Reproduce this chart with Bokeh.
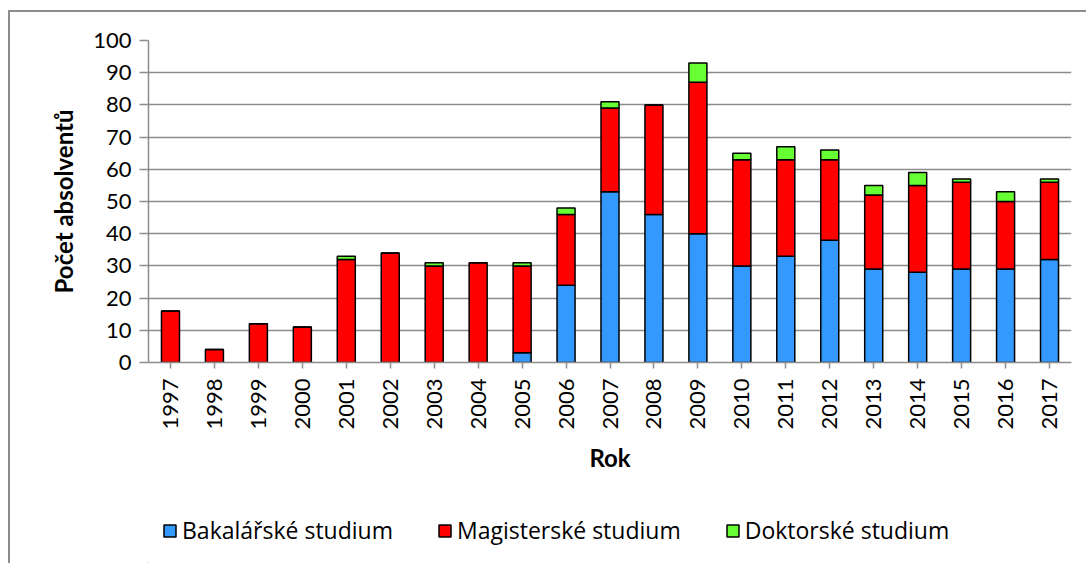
import math
from bokeh.plotting import figure
from bokeh.layouts import column
from bokeh.models import Range1d, FactorRange, Legend, LegendItem, ColumnDataSource, SingleIntervalTicker
from bokeh.embed import file_html
from bokeh.resources import INLINE

years = [str(y) for y in range(1997, 2018)]
bakalarske = [0, 0, 0, 0, 0, 0, 0, 0, 3, 24, 53, 46, 40, 30, 33, 38, 29, 28, 29, 29, 32]
magisterske = [16, 4, 12, 11, 32, 34, 30, 31, 27, 22, 26, 34, 47, 33, 30, 25, 23, 27, 27, 21, 24]
doktorske = [0, 0, 0, 0, 1, 0, 1, 0, 1, 2, 2, 0, 6, 2, 4, 3, 3, 4, 1, 3, 1]
series = ["Bakalářské studium", "Magisterské studium", "Doktorské studium"]
colors = ["#3399ff", "#ff0000", "#66ff33"]

FONT = "Lato"
LFONT = "Open Sans"
GRID = "#8c8c8c"
W = 1076

source = ColumnDataSource(data=dict(year=years, b=bakalarske, m=magisterske, d=doktorske))

p = figure(width=W, height=490, x_range=FactorRange(*years, range_padding=0),
           y_range=Range1d(0, 100), output_backend="svg", toolbar_location=None,
           min_border_left=138, min_border_right=W - 138 - 923, min_border_top=28,
           min_border_bottom=490 - 28 - 322)
p.outline_line_color = None

rs = p.vbar_stack(["b", "m", "d"], x="year", width=0.41, source=source,
                  fill_color=colors, line_color="black", line_width=1.5)

p.yaxis.ticker = SingleIntervalTicker(interval=10)
p.ygrid.grid_line_color = GRID
p.ygrid.grid_line_width = 1.5
p.xgrid.grid_line_color = None

for ax in (p.xaxis[0], p.yaxis[0]):
    ax.axis_line_color = GRID
    ax.axis_line_width = 1.5
    ax.major_tick_line_color = GRID
    ax.major_tick_line_width = 1.5
    ax.major_tick_in = 0
    ax.minor_tick_line_color = None
    ax.major_label_text_font = FONT
    ax.major_label_text_font_size = "22px"
    ax.major_label_text_color = "black"
    ax.axis_label_text_font = FONT
    ax.axis_label_text_font_style = "bold"
    ax.axis_label_text_font_size = "24px"
    ax.axis_label_text_color = "black"

p.yaxis.major_tick_out = 9
p.yaxis.major_label_standoff = 8
p.yaxis.axis_label = "Počet absolventů"
p.yaxis.axis_label_standoff = 12

p.xaxis.major_tick_out = 6
p.xaxis.major_label_orientation = math.pi / 2
p.xaxis.major_label_standoff = 10
p.xaxis.axis_label = "Rok"
p.xaxis.axis_label_standoff = 10

# legend strip below the chart
p2 = figure(width=W, height=61, x_range=Range1d(0, 1), y_range=Range1d(0, 1),
            output_backend="svg", toolbar_location=None,
            x_axis_location=None, y_axis_location=None,
            min_border=0, min_border_left=0, min_border_right=0, min_border_top=0, min_border_bottom=0)
p2.grid.visible = False
p2.outline_line_color = None
dummies = [p2.vbar(x=[-5], top=[-5], bottom=[-6], width=0.1, fill_color=c,
                   line_color="black", line_width=1.5) for c in colors]

legend = Legend(items=[LegendItem(label=s, renderers=[r]) for s, r in zip(series, dummies)],
                orientation="horizontal", location=(14, 17),
                glyph_width=15, glyph_height=15, label_standoff=5, spacing=44,
                padding=0, margin=0, border_line_color=None, background_fill_alpha=0,
                label_text_font=LFONT, label_text_font_size="23px", label_text_color="black")
p2.add_layout(legend, "center")

layout = column(p, p2, spacing=0)
layout.styles = {"margin-left": "8px", "margin-top": "10px",
                 "border-left": "2px solid #8c8c8c", "border-top": "2px solid #8c8c8c"}

open("out.html", "w").write(file_html(layout, INLINE))
